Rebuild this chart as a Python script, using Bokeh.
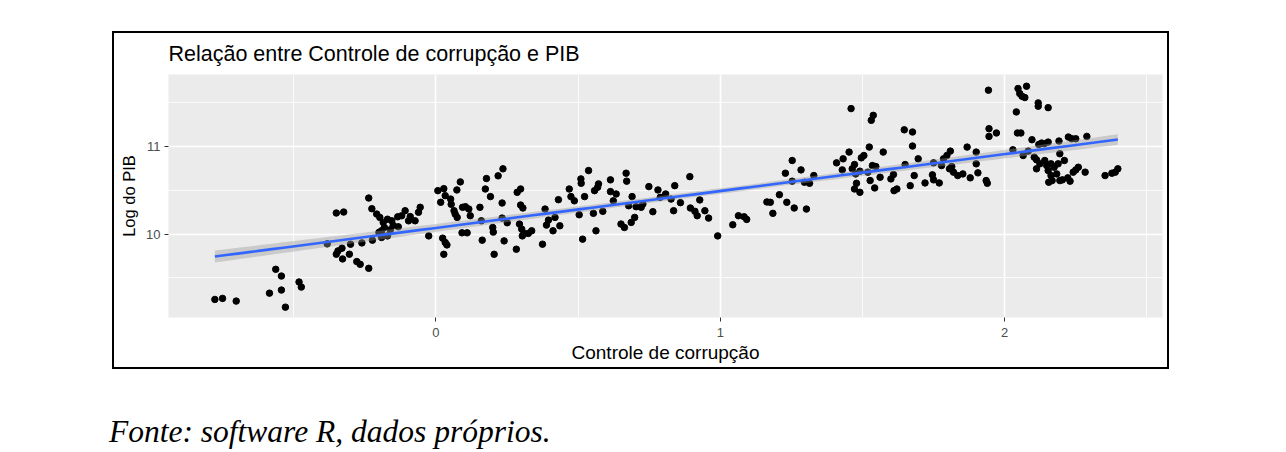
import numpy as np
from bokeh.plotting import figure
from bokeh.models import FixedTicker, Spacer, Div
from bokeh.layouts import column, row
from bokeh.embed import file_html
from bokeh.resources import INLINE

# ---- data ----
corrupcao = [
    -0.777, -0.750, -0.702, -0.563, -0.543, -0.585, -0.543, -0.529, -0.481, -0.473,
    -0.350, -0.324, -0.382, -0.350, -0.344, -0.330, -0.328, -0.300, -0.304, -0.278,
    -0.266, -0.236, -0.260, -0.223, -0.236, -0.225, -0.208, -0.197, -0.185, -0.181,
    -0.191, -0.185, -0.170, -0.191, -0.155, -0.134, -0.120, -0.108, -0.132, -0.096,
    -0.073, -0.061, -0.055, -0.160, -0.150, -0.170, -0.200, -0.025, -0.090,
    0.007, 0.028, 0.017, 0.033, 0.052, 0.054, 0.064, 0.068, 0.075, 0.074,
    0.086, 0.094, 0.104, 0.116, 0.121, 0.092, 0.110, 0.024, 0.033, 0.039,
    0.028, 0.155, 0.160, 0.163, 0.174, 0.178, 0.192, 0.219, 0.236, 0.233,
    0.200, 0.202, 0.205, 0.233, 0.251, 0.240, 0.283, 0.286, 0.298, 0.298,
    0.306, 0.294, 0.302, 0.310, 0.325, 0.337, 0.304, 0.375, 0.384, 0.396,
    0.389, 0.419, 0.412, 0.436, 0.431, 0.469, 0.475, 0.487, 0.504, 0.510,
    0.511, 0.537, 0.523, 0.516, 0.554, 0.558, 0.569, 0.572, 0.587, 0.563,
    0.614, 0.614, 0.634, 0.624, 0.669, 0.671, 0.690, 0.678, 0.704, 0.722,
    0.728, 0.651, 0.663, 0.687, 0.699, 0.749, 0.763, 0.781, 0.789, 0.808,
    0.827, 0.840, 0.836, 0.860, 0.893, 0.895, 0.911, 0.919, 0.928, 0.946,
    0.959, 0.991, 1.044,
    1.064, 1.084, 1.093, 1.164, 1.176, 1.185, 1.208, 1.234, 1.260, 1.303,
    1.229, 1.253, 1.253, 1.284, 1.296, 1.314, 1.329, 1.409, 1.429, 1.432,
    1.453, 1.460, 1.464, 1.472, 1.476, 1.479, 1.472, 1.491, 1.496, 1.505,
    1.491, 1.519, 1.524, 1.527, 1.531, 1.538, 1.535, 1.547, 1.543, 1.562,
    1.573, 1.600, 1.609, 1.611, 1.621, 1.647,
    1.676, 1.676, 1.650, 1.696, 1.682, 1.668, 1.720, 1.750, 1.746, 1.750,
    1.770, 1.778, 1.785, 1.797, 1.809, 1.806, 1.814, 1.820, 1.835, 1.853,
    1.868, 1.879, 1.900, 1.900, 1.906, 1.935, 1.939, 1.945, 1.945, 1.971,
    1.943,
    2.029, 2.041, 2.045, 2.057, 2.047, 2.053, 2.061, 2.077, 2.071, 2.065,
    2.083, 2.096, 2.104, 2.112, 2.112, 2.118, 2.118, 2.120, 2.130, 2.139,
    2.153, 2.153, 2.124, 2.141, 2.148, 2.153, 2.163, 2.174, 2.188, 2.194,
    2.210, 2.191, 2.163, 2.155, 2.167, 2.183, 2.194, 2.203, 2.222, 2.230,
    2.224, 2.236, 2.250, 2.250, 2.241, 2.259, 2.283, 2.289, 2.353, 2.377,
    2.389, 2.398,
]
log_pib = [
    9.255, 9.267, 9.236, 9.599, 9.522, 9.327, 9.362, 9.167, 9.454, 9.396,
    10.241, 10.252, 9.889, 9.771, 9.809, 9.840, 9.717, 9.885, 9.771, 9.687,
    9.656, 9.610, 9.900, 9.931, 10.412, 10.290, 10.229, 10.191, 10.134, 10.076,
    10.038, 9.980, 9.980, 9.962, 10.152, 10.198, 10.210, 10.267, 10.084, 10.152,
    10.152, 10.249, 10.306, 10.050, 10.100, 10.170, 10.020, 9.980, 10.200,
    10.496, 10.519, 10.363, 10.439, 10.400, 10.340, 10.267, 10.229, 10.191, 10.504,
    10.596, 10.306, 10.313, 10.286, 10.210, 10.015, 10.015, 9.954, 9.905, 9.877,
    9.770, 10.306, 10.152, 9.931, 10.515, 10.634, 10.428, 10.665, 10.745, 10.355,
    10.076, 10.023, 9.770, 10.183, 10.130, 9.923, 9.828, 10.477, 10.515, 10.332,
    10.298, 10.115, 10.057, 10.008, 10.008, 10.038, 9.980, 9.885, 10.286, 10.160,
    10.103, 10.191, 10.038, 10.095, 10.393, 10.515, 10.428, 10.380, 10.221, 10.630,
    10.580, 10.725, 10.428, 9.943, 10.237, 10.496, 10.535, 10.573, 10.260, 10.038,
    10.619, 10.485, 10.458, 10.380, 10.695, 10.604, 10.428, 10.324, 10.313, 10.306,
    10.344, 10.115, 10.076, 10.134, 10.191, 10.542, 10.256, 10.504, 10.420, 10.458,
    10.400, 10.553, 10.267, 10.359, 10.656, 10.298, 10.260, 10.210, 10.390, 10.267,
    10.183, 9.980, 10.107,
    10.210, 10.198, 10.168, 10.367, 10.363, 10.237, 10.450, 10.363, 10.298, 10.286,
    10.695, 10.840, 10.604, 10.733, 10.592, 10.580, 10.668, 10.813, 10.733, 10.859,
    10.936, 11.432, 10.745, 10.794, 10.687, 10.580, 10.515, 10.477, 10.870, 10.897,
    10.718, 10.707, 10.993, 10.611, 11.298, 11.355, 10.782, 10.771, 10.527, 10.649,
    10.936, 10.630, 10.680, 10.496, 10.515, 11.190,
    11.165, 11.005, 10.794, 10.859, 10.668, 10.553, 10.584, 10.813, 10.676, 10.619,
    10.584, 10.782, 10.859, 10.897, 10.947, 10.745, 10.771, 10.707, 10.668, 10.687,
    10.993, 10.642, 10.936, 10.802, 10.699, 10.611, 10.580, 11.203, 11.115, 11.154,
    11.642,
    10.962, 11.394, 11.154, 11.154, 11.661, 11.604, 11.573, 11.687, 11.558, 10.897,
    10.947, 11.077, 10.878, 10.848, 10.745, 11.497, 11.459, 11.023, 11.039, 11.031,
    11.050, 11.443, 10.802, 10.840, 10.782, 10.725, 10.802, 10.763, 10.802, 10.917,
    10.840, 11.062, 10.668, 10.592, 10.611, 10.687, 10.611, 10.619, 10.642, 10.604,
    11.108, 11.088, 11.088, 10.733, 10.707, 10.763, 10.707, 11.115, 10.668, 10.695,
    10.707, 10.745,
]
x_ticks = [0, 1, 2]
x_minor_ticks = [-0.5, 0.5, 1.5, 2.5]
y_ticks = [10, 11]
y_minor_ticks = [9.5, 10.5, 11.5]
title_text = "Relação entre Controle de corrupção e PIB"
x_label = "Controle de corrupção"
y_label = "Log do PIB"
caption_text = "Fonte: software R, dados próprios."

# ---- linear fit with 95% confidence band (geom_smooth(method = "lm")) ----
x = np.array(corrupcao)
y = np.array(log_pib)
n = len(x)
b1, b0 = np.polyfit(x, y, 1)
xs = np.linspace(x.min(), x.max(), 80)
yhat = b0 + b1 * xs
resid = y - (b0 + b1 * x)
s = np.sqrt(np.sum(resid ** 2) / (n - 2))
sxx = np.sum((x - x.mean()) ** 2)
se = s * np.sqrt(1.0 / n + (xs - x.mean()) ** 2 / sxx)
tval = 1.968
lower = yhat - tval * se
upper = yhat + tval * se

FONT = "Liberation Sans"

p = figure(width=1057, height=338,
           x_range=(-0.94, 2.555), y_range=(9.049, 11.821),
           output_backend="svg", toolbar_location=None,
           min_border_left=54, min_border_right=9,
           min_border_top=38, min_border_bottom=54)
p.styles = {"border": "2px solid black"}
p.background_fill_color = "#EBEBEB"
p.border_fill_color = "white"
p.outline_line_color = None

p.title.text = title_text
p.title.text_font = FONT
p.title.text_font_style = "normal"
p.title.text_font_size = "21.5px"
p.title.text_color = "black"
p.title.align = "left"
p.title.vertical_align = "middle"
p.title.standoff = 15

p.xaxis.ticker = FixedTicker(ticks=x_ticks, minor_ticks=x_minor_ticks)
p.yaxis.ticker = FixedTicker(ticks=y_ticks, minor_ticks=y_minor_ticks)
for ax in (p.xaxis, p.yaxis):
    ax.axis_line_color = None
    ax.minor_tick_line_color = None
    ax.major_tick_line_color = "#333333"
    ax.major_tick_in = 0
    ax.major_tick_out = 4
    ax.major_label_text_font = FONT
    ax.major_label_text_font_size = "13px"
    ax.major_label_text_color = "#4D4D4D"
    ax.axis_label_text_font = FONT
    ax.axis_label_text_font_style = "normal"
    ax.axis_label_text_color = "black"
p.xaxis.axis_label = x_label
p.yaxis.axis_label = y_label
p.xaxis.axis_label_text_font_size = "19px"
p.yaxis.axis_label_text_font_size = "16.5px"
p.xaxis.major_label_standoff = 6
p.yaxis.major_label_standoff = 4
p.xaxis.axis_label_standoff = 2
p.yaxis.axis_label_standoff = 5

for g in (p.xgrid, p.ygrid):
    g.grid_line_color = "white"
    g.grid_line_width = 1.6
    g.minor_grid_line_color = "white"
    g.minor_grid_line_width = 0.8

p.scatter(x=corrupcao, y=log_pib, size=6.5, color="black")
p.varea(x=xs, y1=lower, y2=upper, fill_color="#999999", fill_alpha=0.4)
p.line(x=xs, y=yhat, line_color="#3366FF", line_width=2.6)

caption = Div(text=caption_text, width=700, height=28,
              styles={"font-family": "'Liberation Serif', 'Times New Roman', serif",
                      "font-style": "italic", "font-size": "31.5px",
                      "line-height": "1", "color": "black",
                      "white-space": "nowrap"})

layout = column(Spacer(height=31),
                row(Spacer(width=112), p),
                Spacer(height=42),
                row(Spacer(width=104), caption))

open("out.html", "w").write(file_html(layout, INLINE))
